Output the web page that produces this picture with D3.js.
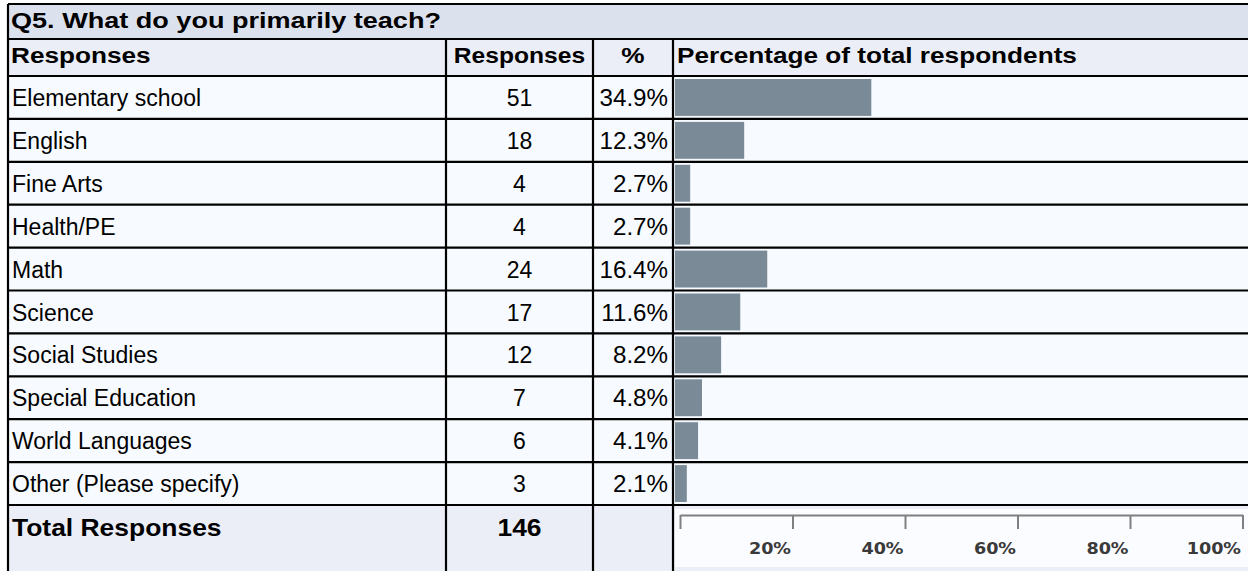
<!DOCTYPE html>
<html>
<head>
<meta charset="utf-8">
<script src="https://cdn.jsdelivr.net/npm/d3@7"></script>
<style>
  body { margin: 0; background: #ffffff; }
  svg { display: block; }
</style>
</head>
<body>
<div id="chart"></div>
<script>
// Survey data
const title = "Q5. What do you primarily teach?";
const headers = ["Responses", "Responses", "%", "Percentage of total respondents"];
const categories = ["Elementary school", "English", "Fine Arts", "Health/PE", "Math",
    "Science", "Social Studies", "Special Education", "World Languages", "Other (Please specify)"];
const counts = [51, 18, 4, 4, 24, 17, 12, 7, 6, 3];
const percents = [34.9, 12.3, 2.7, 2.7, 16.4, 11.6, 8.2, 4.8, 4.1, 2.1];
const totalLabel = "Total Responses";
const totalResponses = 146;
const tickValues = [0, 20, 40, 60, 80, 100];

const rows = categories.map((c, i) => ({name: c, count: counts[i], pct: percents[i]}));

// Layout
const width = 1248, height = 571;
const colX = [8, 446, 593, 673, 1260];
const titleTop = 4, headTop = 39, bodyTop = 76, bodyBottom = 505, totalBottom = 600;

const svg = d3.select("#chart")
    .append("svg")
    .attr("width", width)
    .attr("height", height);

// Scales
const y = d3.scaleBand()
    .domain(categories)
    .range([bodyTop, bodyBottom]);

const x = d3.scaleLinear()
    .domain([0, 100])
    .range([675, 1237.5]);

const xTicks = x.copy().range([680, 1242.5]);

// Backgrounds
svg.append("rect").attr("x", colX[0]).attr("y", titleTop).attr("width", width).attr("height", headTop - titleTop).attr("fill", "#dce1ee");
svg.append("rect").attr("x", colX[0]).attr("y", headTop).attr("width", width).attr("height", bodyTop - headTop).attr("fill", "#eceef7");
svg.append("rect").attr("x", colX[0]).attr("y", bodyTop).attr("width", width).attr("height", bodyBottom - bodyTop).attr("fill", "#f7fbff");
svg.append("rect").attr("x", colX[0]).attr("y", bodyBottom).attr("width", width).attr("height", totalBottom - bodyBottom).attr("fill", "#eceef7");
svg.append("rect").attr("x", 675).attr("y", bodyBottom + 4).attr("width", width).attr("height", 58).attr("fill", "#fbfcff");

// Text helper
function addText(px, py, str, opts = {}) {
    return svg.append("text")
        .attr("transform", `translate(${px},${py}) scale(${opts.sx || 1},1)`)
        .attr("text-anchor", opts.anchor || "start")
        .attr("font-family", "Liberation Sans, Arial, sans-serif")
        .attr("font-size", opts.size || 23)
        .attr("font-weight", opts.bold ? "bold" : "normal")
        .attr("fill", "#000")
        .text(str);
}

// Title and headers
addText(11, 28, title, {bold: true, size: 22, sx: 1.23});
addText(11, 63, headers[0], {bold: true, size: 22, sx: 1.19});
addText((colX[1] + colX[2]) / 2, 63, headers[1], {bold: true, size: 22, anchor: "middle", sx: 1.12});
addText((colX[2] + colX[3]) / 2, 63, headers[2], {bold: true, size: 22, anchor: "middle", sx: 1.19});
addText(677, 63, headers[3], {bold: true, size: 22, sx: 1.19});

// Bars
svg.selectAll(".bar")
    .data(rows)
    .enter()
    .append("rect")
    .attr("class", "bar")
    .attr("x", x(0))
    .attr("y", d => y(d.name) + 3)
    .attr("width", d => x(d.pct) - x(0))
    .attr("height", y.bandwidth() - 6)
    .attr("fill", "#7a8a96");

// Row text
rows.forEach(d => {
    const base = y(d.name) + 30;
    addText(12, base, d.name);
    addText((colX[1] + colX[2]) / 2, base, d.count, {anchor: "middle"});
    addText(668, base, d.pct.toFixed(1) + "%", {anchor: "end", sx: 1.05});
});

// Total row
addText(12, 536, totalLabel, {bold: true, sx: 1.15});
addText((colX[1] + colX[2]) / 2, 536, totalResponses, {bold: true, anchor: "middle", sx: 1.15});

// Axis
const axis = svg.append("g")
    .attr("transform", `translate(0,${bodyBottom + 10})`)
    .call(d3.axisBottom(xTicks)
        .tickValues(tickValues)
        .tickSize(14)
        .tickSizeOuter(0)
        .tickFormat(d => d ? d + "%" : ""));

axis.select(".domain").attr("stroke", "#808080").attr("stroke-width", 2);
axis.selectAll(".tick line").attr("stroke", "#808080").attr("stroke-width", 2);
axis.selectAll(".tick text")
    .attr("y", 0)
    .attr("x", 0)
    .attr("dy", null)
    .attr("transform", "translate(-2,39) scale(1.1,1)")
    .attr("text-anchor", "end")
    .attr("font-family", "DejaVu Sans, Verdana, sans-serif")
    .attr("font-weight", "bold")
    .attr("font-size", 16)
    .attr("fill", "#3a3a3a");

// Grid lines
const hLines = [titleTop, headTop, bodyTop, ...categories.map(c => y(c) + y.bandwidth())];
svg.selectAll(".hline")
    .data(hLines)
    .enter()
    .append("line")
    .attr("x1", colX[0])
    .attr("x2", width)
    .attr("y1", d => d)
    .attr("y2", d => d)
    .attr("stroke", "#000")
    .attr("stroke-width", 2.2);

svg.selectAll(".vline")
    .data(colX.slice(0, 4))
    .enter()
    .append("line")
    .attr("x1", d => d)
    .attr("x2", d => d)
    .attr("y1", (d, i) => i === 0 ? titleTop : headTop)
    .attr("y2", height)
    .attr("stroke", "#000")
    .attr("stroke-width", 2.2);
</script>
</body>
</html>
